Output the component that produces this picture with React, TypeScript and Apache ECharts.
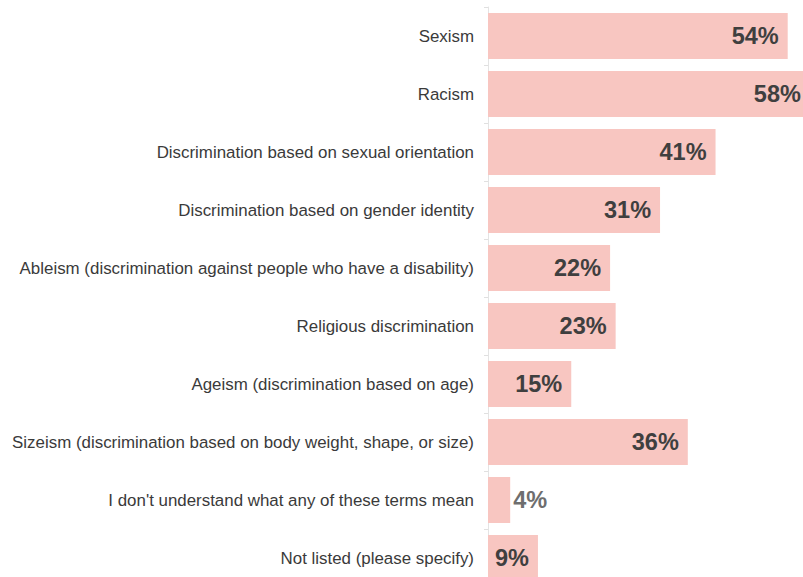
import React, { useEffect, useRef } from "react";
import * as echarts from "echarts";

const categories = [
  "Sexism",
  "Racism",
  "Discrimination based on sexual orientation",
  "Discrimination based on gender identity",
  "Ableism (discrimination against people who have a disability)",
  "Religious discrimination",
  "Ageism (discrimination based on age)",
  "Sizeism (discrimination based on body weight, shape, or size)",
  "I don't understand what any of these terms mean",
  "Not listed (please specify)",
];
const values = [54, 58, 41, 31, 22, 23, 15, 36, 4, 9];
const outsideLabelIndex = [8];

export default function App() {
  const ref = useRef<HTMLDivElement>(null);
  useEffect(() => {
    if (!ref.current) return;
    const chart = echarts.init(ref.current, undefined, { renderer: "svg" });
    const font = "'Liberation Sans', Arial, Helvetica, sans-serif";
    chart.setOption({
      animation: false,
      grid: { left: 488, width: 333, top: 7, height: 580, containLabel: false },
      xAxis: {
        type: "value",
        min: 0,
        max: 60,
        show: false,
      },
      yAxis: {
        type: "category",
        data: categories,
        inverse: true,
        axisLine: { show: true, lineStyle: { color: "#e4e4e4", width: 1 } },
        axisTick: { show: true, length: 4, lineStyle: { color: "#e0e0e0" } },
        axisLabel: {
          margin: 14,
          color: "#3a3a3a",
          fontSize: 16.9,
          fontFamily: font,
        },
      },
      series: [
        {
          type: "bar",
          clip: false,
          barCategoryGap: "20.7%",
          itemStyle: { color: "#f8c6c1" },
          data: values.map((v, i) => {
            const outside = outsideLabelIndex.includes(i);
            return {
              value: v,
              label: {
                show: true,
                position: outside ? "right" : "insideRight",
                distance: outside ? 3 : 9,
                formatter: "{c}%",
                color: outside ? "#6e6e6e" : "#3f3f3f",
                fontWeight: "bold",
                fontSize: 23.5,
                fontFamily: font,
              },
            };
          }),
        },
      ],
    });
    return () => chart.dispose();
  }, []);
  return (
    <div
      ref={ref}
      style={{ position: "fixed", left: 0, top: 0, width: 830, height: 590, background: "#fff" }}
    />
  );
}
